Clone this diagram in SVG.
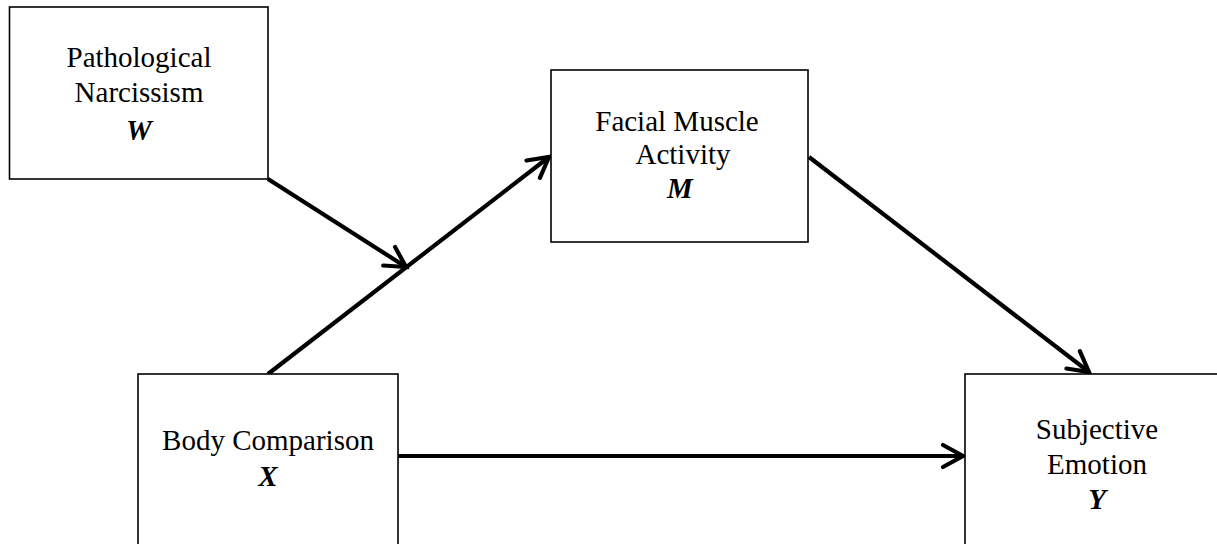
<svg xmlns="http://www.w3.org/2000/svg" width="1217" height="544" viewBox="0 0 1217 544">
  <style>
    .box { fill: #ffffff; stroke: #000000; stroke-width: 1.6; }
    .lbl { font-family: "Liberation Serif", "Times New Roman", serif; font-size: 29px; fill: #000000; text-anchor: middle; }
    .var { font-weight: bold; font-style: italic; }
    .path { stroke: #000000; stroke-width: 4.2; fill: none; marker-end: url(#chev); }
  </style>
  <defs>
    <marker id="chev" markerUnits="userSpaceOnUse" markerWidth="30" markerHeight="30" viewBox="-24 -15 28 30" refX="0" refY="0" orient="auto">
      <path d="M-20,-11 L0,0 L-20,11" fill="none" stroke="#000000" stroke-width="4.2" stroke-linecap="round" stroke-linejoin="miter"/>
    </marker>
  </defs>

  <g id="connectors">
    <line class="path" x1="268" y1="179" x2="406" y2="267"/>
    <line class="path" x1="268" y1="374" x2="549" y2="157"/>
    <line class="path" x1="809" y1="157" x2="1089" y2="372"/>
    <line class="path" x1="398" y1="456" x2="963" y2="456"/>
  </g>

  <g id="node-w">
    <rect class="box" x="9.5" y="7" width="258.5" height="172"/>
    <text class="lbl" x="139" y="67">Pathological</text>
    <text class="lbl" x="139" y="102">Narcissism</text>
    <text class="lbl var" x="139" y="140">W</text>
  </g>

  <g id="node-m">
    <rect class="box" x="551" y="70" width="257" height="172"/>
    <text class="lbl" x="677" y="131">Facial Muscle</text>
    <text class="lbl" x="683" y="164">Activity</text>
    <text class="lbl var" x="680" y="198">M</text>
  </g>

  <g id="node-x">
    <rect class="box" x="138" y="374" width="260" height="190"/>
    <text class="lbl" x="268" y="450">Body Comparison</text>
    <text class="lbl var" x="268" y="486">X</text>
  </g>

  <g id="node-y">
    <rect class="box" x="965" y="374" width="270" height="190"/>
    <text class="lbl" x="1097" y="439">Subjective</text>
    <text class="lbl" x="1097" y="474">Emotion</text>
    <text class="lbl var" x="1097" y="509">Y</text>
  </g>
</svg>
